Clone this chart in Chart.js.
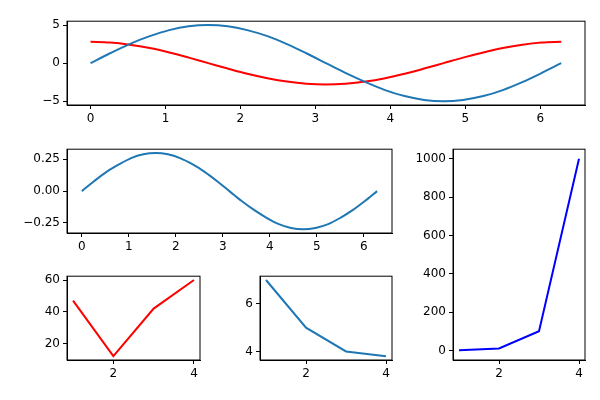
<!DOCTYPE html>
<html>
<head>
<meta charset="utf-8">
<script src="https://cdn.jsdelivr.net/npm/chart.js@4"></script>
<style>
  body { margin: 0; background: #fff; }
  #fig { position: relative; width: 600px; height: 400px; }
  .ax { position: absolute; }
</style>
</head>
<body>
<div id="fig"></div>
<script>
const xs = [0, 0.26, 0.52, 0.79, 1.05, 1.31, 1.57, 1.83, 2.09, 2.36, 2.62, 2.88, 3.14,
            3.40, 3.67, 3.93, 4.19, 4.45, 4.71, 4.97, 5.24, 5.50, 5.76, 6.02, 6.28];
const blueWave = [0, 1.29, 2.5, 3.54, 4.33, 4.83, 5, 4.83, 4.33, 3.54, 2.5, 1.29, 0,
                  -1.29, -2.5, -3.54, -4.33, -4.83, -5, -4.83, -4.33, -3.54, -2.5, -1.29, 0];
const redWave = [2.8, 2.7, 2.42, 1.98, 1.4, 0.72, 0, -0.72, -1.4, -1.98, -2.42, -2.7, -2.8,
                 -2.7, -2.42, -1.98, -1.4, -0.72, 0, 0.72, 1.4, 1.98, 2.42, 2.7, 2.8];
const smallWave = [0, 0.078, 0.15, 0.21, 0.26, 0.29, 0.3, 0.29, 0.26, 0.21, 0.15, 0.078, 0,
                   -0.078, -0.15, -0.21, -0.26, -0.29, -0.3, -0.29, -0.26, -0.21, -0.15, -0.078, 0];
const steps = [1, 2, 3, 4];
const redSteps = [47, 12, 42, 60];
const blueSteps = [7, 5, 4, 3.8];
const powers = [1, 10, 100, 1000];

const BLUE = '#1f77b4';
const fig = document.getElementById('fig');

const boxPlugin = {
  id: 'box',
  afterDraw(c) {
    const a = c.chartArea, g = c.ctx;
    g.save();
    g.strokeStyle = '#000';
    g.lineWidth = 1;
    g.strokeRect(a.left, a.top, a.right - a.left, a.bottom - a.top);
    g.restore();
  }
};

function pts(x, y) { return x.map((v, i) => ({ x: v, y: y[i] })); }

function axis(min, max, ticks, fmt, isY) {
  return {
    type: 'linear', min: min, max: max,
    grid: { drawOnChartArea: false, drawTicks: true, tickLength: 4, color: '#000' },
    border: { display: true, color: '#000' },
    ticks: { color: '#000', font: { family: 'DejaVu Sans', size: 12 }, padding: 3,
             maxRotation: 0, autoSkip: false, callback: v => fmt(v) },
    afterBuildTicks: s => { s.ticks = ticks.map(v => ({ value: v })); },
    afterFit: s => { if (isY) s.width = 55; else s.height = 25; }
  };
}

function makeAxes(left, top, w, h, datasets, xr, yr, smooth) {
  const div = document.createElement('div');
  div.className = 'ax';
  div.style.left = (left - 55) + 'px';
  div.style.top = (top - 6) + 'px';
  div.style.width = (w + 55 + 12) + 'px';
  div.style.height = (h + 6 + 25) + 'px';
  const cv = document.createElement('canvas');
  div.appendChild(cv);
  fig.appendChild(div);
  new Chart(cv, {
    type: 'line',
    data: { datasets: datasets.map(d => ({
      data: d.data, borderColor: d.color, borderWidth: 2, pointRadius: 0,
      fill: false, cubicInterpolationMode: smooth ? 'monotone' : 'default', tension: 0 })) },
    options: {
      responsive: true, maintainAspectRatio: false, animation: false,
      layout: { padding: { top: 6, right: 12, left: 0, bottom: 0 } },
      plugins: { legend: { display: false }, tooltip: { enabled: false } },
      scales: {
        x: axis(xr[0], xr[1], xr[2], xr[3], false),
        y: axis(yr[0], yr[1], yr[2], yr[3], true)
      }
    },
    plugins: [boxPlugin]
  });
}

const intFmt = v => String(v);
const minus = s => s.replace('-', '\u2212');

makeAxes(67, 17, 518, 88,
  [{ data: pts(xs, blueWave), color: BLUE }, { data: pts(xs, redWave), color: 'red' }],
  [-0.314, 6.597, [0, 1, 2, 3, 4, 5, 6], intFmt],
  [-5.5, 5.5, [-5, 0, 5], v => minus(String(v))], true);

makeAxes(67, 145, 325, 88,
  [{ data: pts(xs, smallWave), color: BLUE }],
  [-0.314, 6.597, [0, 1, 2, 3, 4, 5, 6], intFmt],
  [-0.33, 0.33, [-0.25, 0, 0.25], v => minus(v.toFixed(2))], true);

makeAxes(453, 145, 132, 215,
  [{ data: pts(steps, powers), color: 'blue' }],
  [0.85, 4.15, [2, 4], intFmt],
  [-49.95, 1049.95, [0, 200, 400, 600, 800, 1000], intFmt], false);

makeAxes(67, 272, 133, 88,
  [{ data: pts(steps, redSteps), color: 'red' }],
  [0.85, 4.15, [2, 4], intFmt],
  [9.6, 62.4, [20, 40, 60], intFmt], false);

makeAxes(260, 272, 132, 88,
  [{ data: pts(steps, blueSteps), color: BLUE }],
  [0.85, 4.15, [2, 4], intFmt],
  [3.64, 7.16, [4, 6], intFmt], false);
</script>
</body>
</html>
